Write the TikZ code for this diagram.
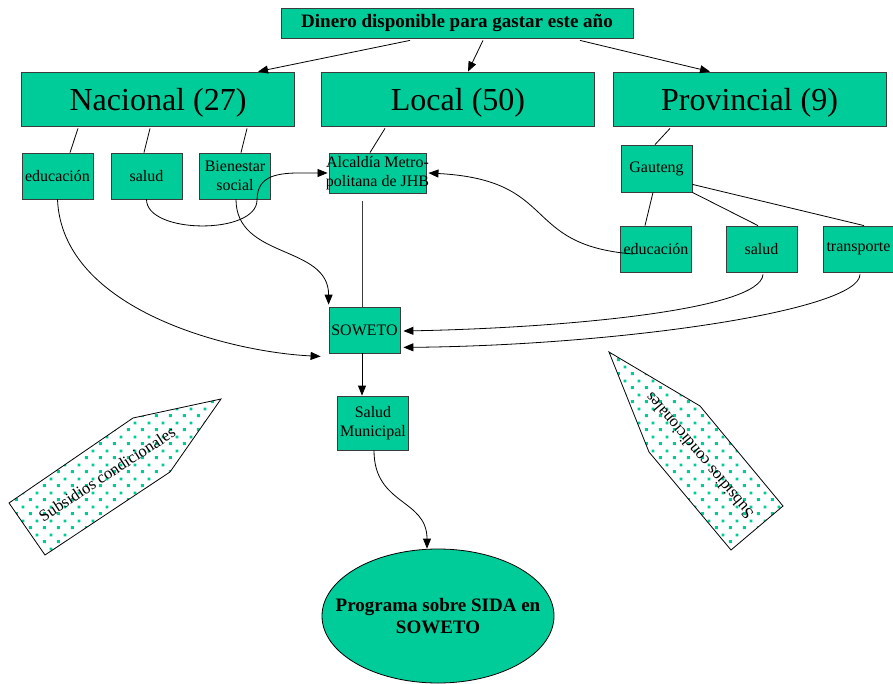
\documentclass[tikz,border=0pt]{standalone}
\usepackage{fontspec}
\setmainfont{Liberation Serif}
\usetikzlibrary{arrows.meta,positioning,shapes.geometric,patterns.meta}
\definecolor{boxgreen}{RGB}{0,204,153}
\definecolor{boxline}{RGB}{60,60,60}
\tikzdeclarepattern{
  name=subdots,
  type=uncolored,
  bounding box={(0,0) and (14pt,14pt)},
  tile size={(14pt,14pt)},
  code={
    \fill (1pt,1pt) rectangle (4pt,4pt);
    \fill (8pt,8pt) rectangle (11pt,11pt);
  }
}

\begin{document}
\begin{tikzpicture}[x=1pt,y=-1pt,on grid,line width=0.8pt,
    >={Triangle[length=10pt,width=8pt]},
    box/.style={draw=boxline,fill=boxgreen,minimum width=71pt,minimum height=46pt,
      inner sep=0pt,align=center,font=\fontsize{16}{18.5}\selectfont},
    bigbox/.style={box,minimum width=273pt,minimum height=54pt,text depth=0pt,
      font=\fontsize{32}{36}\selectfont},
    topbox/.style={box,minimum width=352pt,minimum height=30pt,font=\fontsize{19}{22}\selectfont\bfseries},
    goal/.style={ellipse,draw=black,fill=boxgreen,minimum width=232pt,minimum height=134pt,
      inner xsep=-22pt,inner ysep=0pt,align=center,font=\fontsize{19}{22}\selectfont\bfseries},
    hatch/.style={draw=black,pattern={subdots},pattern color=boxgreen},
    hatchtext/.style={inner sep=0pt,font=\fontsize{16.5}{18}\selectfont}]
  \useasboundingbox (0,0) rectangle (893,684);

  % subsidios condicionales
  \path[hatch] (9,503) -- (133,418) -- (221,399) -- (170,472) -- (45,555) -- cycle;
  \node[hatchtext,rotate=33] (subizq) at (107,474) {Subsidios condicionales};
  \path[hatch] (609,352) -- (700,406) -- (783,506) -- (731,550) -- (649,452) -- cycle;
  \node[hatchtext,rotate=130] (subder) at (699,456) {Subsidios condicionales};

  \node[topbox] (dinero) at (457,23) {Dinero disponible para gastar este año};
  \node[bigbox] (nac) at (158,99) {Nacional (27)};
  \node[bigbox] (loc) [right=300pt of nac] {Local (50)};
  \node[bigbox] (prov) [right=291.5pt of loc] {Provincial (9)};

  \node[box] (edu1) at (57.5,176) {educación};
  \node[box] (sal1) [right=89pt of edu1] {salud};
  \node[box] (bien) [right=88.5pt of sal1] {Bienestar\\social};
  \node[box,minimum width=97pt,minimum height=40pt,inner xsep=-3pt] (alc) at (377.5,173)
    {Alcaldía Metro-\\politana de JHB};
  \node[box,minimum height=47pt] (gaut) at (656.5,168.5) {Gauteng};
  \node[box] (edu2) at (656,249) {educación};
  \node[box] (sal2) [right=105.5pt of edu2] {salud};
  \node[box] (trans) [right=97pt of sal2] {transporte};
  \node[box] (soweto) at (364.5,330) {SOWETO};
  \node[box,minimum height=54pt] (salmun) at (373,423) {Salud\\Municipal};
  \node[goal] (prog) at (438,616) {Programa sobre SIDA en\\SOWETO};

  \path[->]
    ([xshift=-47pt,yshift=-2pt]dinero.south) edge ([xshift=100pt]nac.north)
    ([xshift=26pt,yshift=-2pt]dinero.south) edge ([xshift=10pt]loc.north)
    ([xshift=123pt,yshift=-2pt]dinero.south) edge ([xshift=-39.5pt]prov.north);

  \draw ([xshift=-80pt,yshift=-2pt]nac.south) -- ([xshift=12.5pt]edu1.north);
  \draw ([xshift=-8pt,yshift=-2pt]nac.south) -- ([xshift=-2.5pt]sal1.north);
  \draw ([xshift=89pt,yshift=-2pt]nac.south) -- ([xshift=6pt]bien.north);
  \draw ([xshift=-73pt,yshift=-2pt]loc.south) -- ([xshift=-7.5pt]alc.north);
  \draw ([xshift=-79.5pt,yshift=-2pt]prov.south) -- ([xshift=-1.5pt]gaut.north);
  \draw ([xshift=-3.5pt]gaut.south) -- ([xshift=-11pt]edu2.north);
  \draw (gaut.south east) -- ([xshift=-3.5pt]sal2.north);
  \draw ([yshift=8pt]gaut.south east) -- ([xshift=5.5pt]trans.north);
  \draw[boxline] ([xshift=-15.5pt,yshift=-8pt]alc.south) -- ([xshift=-2.5pt]soweto.north);

  \draw[->] (edu1.south) .. controls (62,310) and (230,352) .. ([xshift=-8pt,yshift=-3pt]soweto.south west);
  \draw[->] ([xshift=1pt]bien.south) .. controls +(0,60) and +(0,-60) .. ([yshift=2pt]soweto.north west);
  \draw[->] (sal1.south) .. controls +(0,35) and +(0,35) .. (257,200)
    .. controls +(0,-30) and +(-40,0) .. ([xshift=-1pt]alc.west);
  \draw[->] ([xshift=-23pt,yshift=-5pt]edu2.center) .. controls (520,245) and (560,180) .. ([xshift=2pt]alc.east);
  \draw[->] ([xshift=1.5pt,yshift=-2pt]sal2.south) .. controls +(-2,36) and +(157,-3) .. ([xshift=3pt,yshift=-1pt]soweto.east);
  \draw[->] ([xshift=1.5pt,yshift=-2pt]trans.south) .. controls +(0,36) and +(217,-2) .. ([xshift=3pt,yshift=6pt]soweto.south east);
  \draw[->] ([xshift=-2.5pt]soweto.south) -- ([xshift=-11pt]salmun.north);
  \draw[->] ([xshift=1pt]salmun.south) .. controls +(0,55) and +(0,-50) .. ([xshift=-11pt]prog.north);
\end{tikzpicture}
\end{document}
